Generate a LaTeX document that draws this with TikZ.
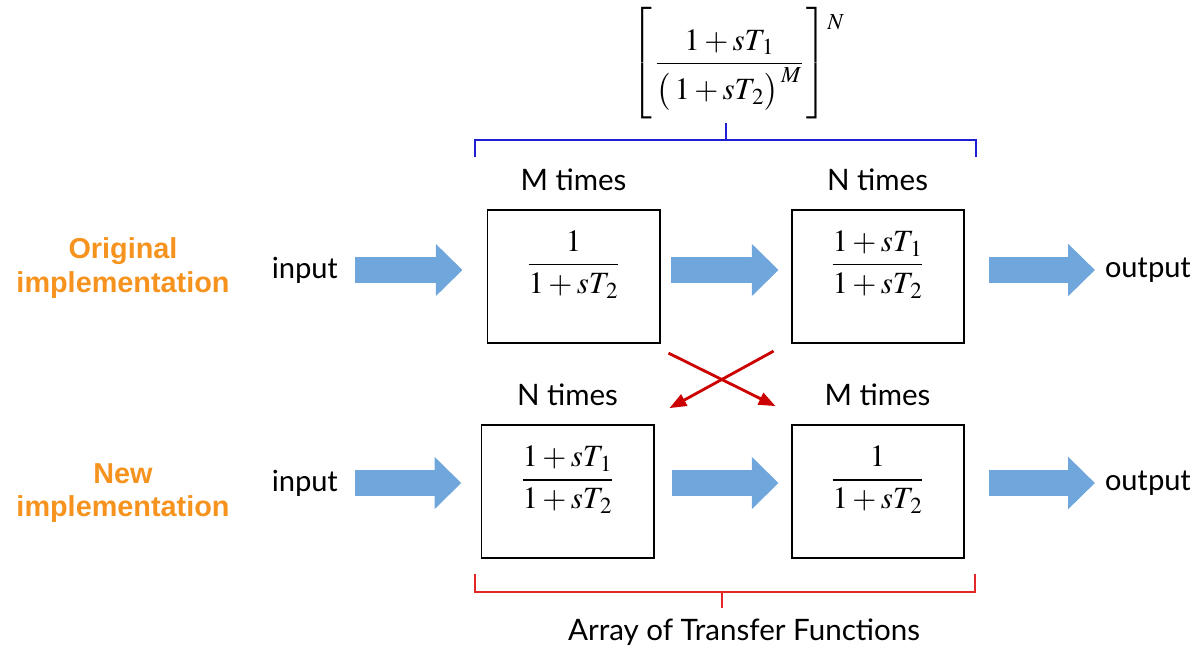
\documentclass[tikz,border=0pt]{standalone}
\usepackage{amsmath}
\usepackage{mathptmx}
\usepackage[no-math]{fontspec}
\setmainfont{Lato}
\newfontfamily\calfont{Carlito}
\newfontfamily\headfont{Liberation Sans}
\usepackage{xcolor}
\usetikzlibrary{arrows.meta, positioning}

\definecolor{flowblue}{RGB}{111,166,220}
\definecolor{implorange}{RGB}{246,147,30}
\definecolor{crossred}{RGB}{204,0,0}
\definecolor{groupred}{RGB}{228,40,40}
\definecolor{groupblue}{RGB}{30,30,210}

\begin{document}
\begin{tikzpicture}[
  x=0.025cm, y=-0.025cm,
  tfbox/.style={rectangle, draw=black, line width=1.4pt, minimum width=4.3cm,
                minimum height=3.33cm, text height=1.0cm, text depth=1.2cm,
                font=\fontsize{22}{26}\selectfont},
  reps/.style={font=\fontsize{21}{25}\selectfont},
  io/.style={font=\calfont\fontsize{22}{26}\selectfont},
  impl/.style={font=\headfont\bfseries\fontsize{20.5}{24}\selectfont,
               text=implorange, align=center},
  flow/.style={line width=17.8pt, flowblue, -{Triangle[length=19pt, width=36pt]}},
  crossarrow/.style={line width=2pt, crossred, -{Triangle[length=12pt, width=9pt]}},
  groupline/.style={line width=1.3pt}
]
  \path[use as bounding box] (0,0) rectangle (1194,646);

  % transfer function blocks
  \node[tfbox] (boxA) at (573.5,276.5) {$\dfrac{1}{1+sT_{\,2}}$};
  \node[tfbox, right=3.25cm of boxA] (boxB) {$\dfrac{1+sT_{\,1}}{1+sT_{\,2}}$};
  \node[tfbox, below=2cm of boxB] (boxD) {$\dfrac{1}{1+sT_{\,2}}$};
  \node[tfbox, left=3.4cm of boxD] (boxC) {$\dfrac{1+sT_{\,1}}{1+sT_{\,2}}$};

  \node[reps, above=0.33cm of boxA] (repA) {M times};
  \node[reps, above=0.33cm of boxB] (repB) {N times};
  \node[reps, above=0.33cm of boxC] (repC) {N times};
  \node[reps, above=0.33cm of boxD] (repD) {M times};

  \node[impl] (origImpl) at (123,268) {Original\\implementation};
  \node[impl] (newImpl)  at (123,493) {New\\implementation};

  \node[io] (inA)  at (305,270)  {input};
  \node[io] (outA) at (1148,270) {output};
  \node[io] (inB)  at (305,483)  {input};
  \node[io] (outB) at (1148,483) {output};

  \node[inner sep=0pt, anchor=base, font=\fontsize{22}{26}\selectfont] (stack) at (738,71)
    {$\left[\vrule height 38pt depth 32pt width 0pt\,\dfrac{1+sT_{\,1}}{\bigl(\,1+sT_{\,2}\bigr)^{\,M}}\,\right]^{\raisebox{-9pt}{$\scriptstyle N$}}$};
  \node[reps] (arrayLbl) at (744,632) {Array of Transfer Functions};

  % signal flow
  \draw[flow, shorten <=0.31cm, shorten >=0.6cm]  (inA.east) -- (inA.east -| boxA.west);
  \draw[flow, shorten <=0.25cm, shorten >=0.3cm]  (boxA.east |- inA) -- (boxB.west |- inA);
  \draw[flow, shorten <=0.62cm, shorten >=0.13cm] (boxB.east |- outA) -- (outA.west);
  \draw[flow, shorten <=0.31cm, shorten >=0.48cm] (inB.east) -- (inB.east -| boxC.west);
  \draw[flow, shorten <=0.43cm, shorten >=0.3cm]  (boxC.east |- inB) -- (boxD.west |- inB);
  \draw[flow, shorten <=0.62cm, shorten >=0.13cm] (boxD.east |- outB) -- (outB.west);

  % reordering
  \draw[crossarrow] ([shift={(8,9)}]boxA.south east) -- ([shift={(-15,-18)}]boxD.north west);
  \draw[crossarrow] ([shift={(-17,7)}]boxB.south west) -- ([shift={(15,-16)}]boxC.north east);

  % groupings
  \draw[groupline, groupblue] (475,157) -- (475,140) -- (976,140) -- (976,157);
  \draw[groupline, groupblue] (726,140) -- (726,123);
  \draw[groupline, groupred] (475,574) -- (475,592) -- (975,592) -- (975,574);
  \draw[groupline, groupred] (722,592) -- (722,608);
\end{tikzpicture}
\end{document}
